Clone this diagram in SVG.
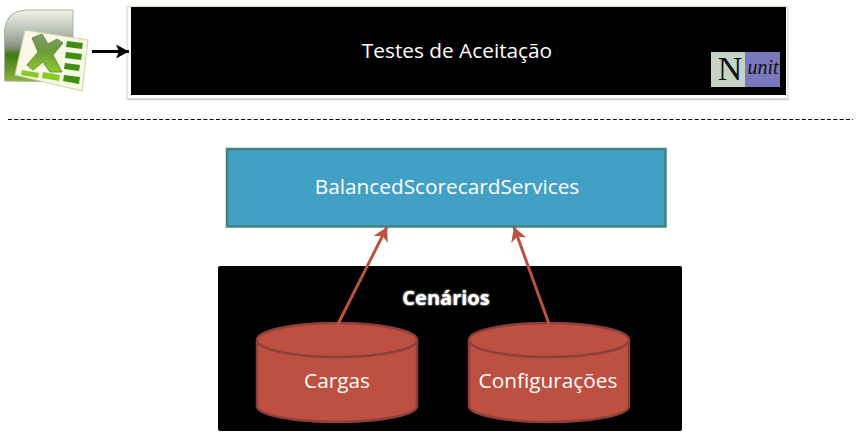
<svg xmlns="http://www.w3.org/2000/svg" width="861" height="437" viewBox="0 0 861 437">
<defs>
<linearGradient id="xlBack" x1="0" y1="0" x2="0" y2="1"><stop offset="0" stop-color="#eef1e6"/><stop offset="0.25" stop-color="#c4c9bd"/><stop offset="0.5" stop-color="#8d9488"/><stop offset="0.62" stop-color="#3f7a14"/><stop offset="1" stop-color="#8fb33f"/></linearGradient>
<linearGradient id="xlX" x1="0" y1="0" x2="0" y2="1"><stop offset="0" stop-color="#7f9a78"/><stop offset="0.45" stop-color="#6c9a3a"/><stop offset="1" stop-color="#8ccb2a"/></linearGradient>
<marker id="redHead" markerUnits="userSpaceOnUse" markerWidth="20" markerHeight="20" refX="15" refY="10" orient="auto"><path d="M15 10 L1 2 L5 10 L1 18 Z" fill="#b9533f"/></marker>
<marker id="blackHead" markerUnits="userSpaceOnUse" markerWidth="20" markerHeight="20" refX="15" refY="10" orient="auto"><path d="M15 10 L2 3 L5 10 L2 17 Z" fill="#000"/></marker>
<filter id="glow" x="-20%" y="-40%" width="140%" height="180%"><feGaussianBlur stdDeviation="0.8"/></filter>
</defs>
<style>
text{font-family:"Open Sans","Noto Sans","Liberation Sans",sans-serif;fill:#fff;text-anchor:middle}
.lbl{font-size:20.800px}
.cyl{fill:#bd5040;stroke:#8e3f3c;stroke-width:2.500}
.conn{fill:none;stroke:#b9533f;stroke-width:3}
</style>
<rect width="861" height="437" fill="#fff"/>
<g id="excel-icon">
<path d="M4.500 81 V30 Q6 11 26 10 H73 V82 Z" fill="url(#xlBack)" stroke="#a9b39c" stroke-width="1"/>
<path d="M25 30 L88 40 L82 91 L15 75 Z" fill="#f7f8e6" stroke="#c9d4a8" stroke-width="1"/>
<path d="M32 38 L42 34 L48 44 L57 39 L63 43 L53 55 L62 72 L50 72 L43 62 L33 70 L27 65 L38 52 Z" fill="url(#xlX)" stroke="#6b8f3a" stroke-width="1"/>
<g fill="#3f8f12">
<path d="M67 41 L83 43 L82 49 L66 47 Z"/>
<path d="M66 52 L82 54 L81 60 L65 58 Z"/>
<path d="M65 63 L80 65 L79 71 L64 69 Z"/>
<path d="M64 75 L80 77 L79 84 L63 81 Z"/>
</g>
<g fill="#86cc22">
<path d="M22 70 L39 73 L38 78 L21 75 Z"/>
<path d="M43 72 L60 75 L59 81 L42 78 Z"/>
</g>
</g>
<g id="testes-de-aceitacao">
<rect x="127" y="6.500" width="661" height="92" fill="#fff" stroke="#cfe3c6" stroke-width="1.200"/>
<path d="M127 99.500 H789" stroke="#d0d0d0" stroke-width="1.500" fill="none"/>
<rect x="131" y="7" width="655" height="88" fill="#000"/>
<text class="lbl" x="457" y="58">Testes de Aceitação</text>
</g>
<g id="nunit-logo">
<rect x="711" y="52" width="34" height="35" fill="#c3d3c5"/>
<rect x="745" y="52" width="35" height="35" fill="#7a78bd"/>
<text x="730" y="80" style="font-family:'Liberation Serif',serif;font-size:34px;fill:#111">N</text>
<text x="763" y="74" style="font-family:'Liberation Serif',serif;font-size:20px;font-style:italic;fill:#111">unit</text>
</g>
<path id="separator" d="M8 119.500 H853" stroke="#000" stroke-width="1" stroke-dasharray="4 2.300" fill="none"/>
<g id="balanced-scorecard-services">
<rect x="227" y="149" width="438.500" height="77.500" fill="#42a0c4" stroke="#45827f" stroke-width="2.500"/>
<text class="lbl" x="447" y="194">BalancedScorecardServices</text>
</g>
<g id="cenarios">
<rect x="218" y="266" width="464" height="165" rx="2" fill="#000"/>
<text x="446" y="305" filter="url(#glow)" style="font-size:20px;font-weight:700">Cenários</text>
<text x="446" y="305" style="font-size:20px;font-weight:700">Cenários</text>
</g>
<g id="cargas">
<path class="cyl" d="M257 340 V406 A80 16 0 0 0 417 406 V340"/>
<ellipse class="cyl" cx="337" cy="340" rx="80" ry="17"/>
<text class="lbl" x="337" y="388">Cargas</text>
</g>
<g id="configuracoes">
<path class="cyl" d="M469 340 V406 A80 16 0 0 0 629 406 V340"/>
<ellipse class="cyl" cx="549" cy="340" rx="80" ry="17"/>
<text class="lbl" x="548" y="388">Configurações</text>
</g>
<g id="connectors">
<path class="conn" marker-end="url(#redHead)" d="M338 324 L387 227"/>
<path class="conn" marker-end="url(#redHead)" d="M549 324 L514 227"/>
<path d="M92 51.500 H129" fill="none" stroke="#000" stroke-width="3" marker-end="url(#blackHead)"/>
</g>
</svg>
